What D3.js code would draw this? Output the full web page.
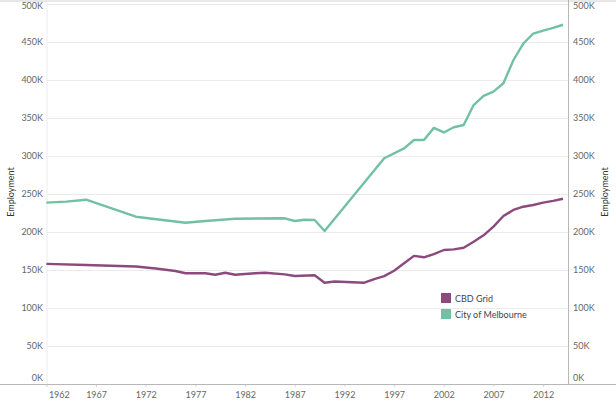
<!DOCTYPE html>
<html>
<head>
<meta charset="utf-8">
<script src="https://cdn.jsdelivr.net/npm/d3@7"></script>
<style>
  body { margin: 0; background: #fff; }
  text { font-family: Lato, "Open Sans", sans-serif; }
</style>
</head>
<body>
<div class="chart"></div>
<script>
// years (null = no point for that series)
var years = [1962, 1964, 1966, 1971, 1973, 1975, 1976, 1978, 1979, 1980, 1981, 1983, 1984, 1986, 1987, 1988, 1989, 1990, 1991, 1994, 1995, 1996, 1997, 1998, 1999, 2000, 2001, 2002, 2003, 2004, 2005, 2006, 2007, 2008, 2009, 2010, 2011, 2012, 2013, 2014];
var cbdGrid = [158.0, null, 156.6, 154.6, 152.0, 148.7, 145.7, 145.7, 143.8, 146.4, 143.8, 145.7, 146.4, 144.3, 142.1, null, 143.0, 133.3, 134.8, 133.3, 138.0, 142.0, 149.0, 158.8, 168.6, 166.7, 171.0, 176.3, 177.2, 179.3, 187.2, 195.6, 207.0, 221.0, 229.0, 233.3, 235.5, 238.6, 241.0, 243.7];
var cityOfMelbourne = [238.6, 240.0, 242.5, 220.1, null, null, 212.2, 214.5, 215.4, null, 217.5, null, null, 218.0, 214.5, 216.2, 215.8, 201.3, null, null, null, 297.0, null, 310.0, 321.0, 321.0, 337.0, 331.0, 337.8, 340.8, 367.0, 379.0, 384.6, 395.7, 426.0, 448.0, 461.0, 465.0, 468.5, 472.7];
var seriesNames = ["CBD Grid", "City of Melbourne"];
var seriesColors = ["#8b4a7e", "#71c1a2"];
var yTicks = [0, 50, 100, 150, 200, 250, 300, 350, 400, 450, 500];
var xTicks = [1962, 1967, 1972, 1977, 1982, 1987, 1992, 1997, 2002, 2007, 2012];

window.onload = drawChart();

function drawChart(){
    var width = 616,
        height = 406;

    var left = 47, right = 568, top = 4, bottom = 384;

    var svg = d3.select("div.chart")
        .append("svg")
        .attr("width", width)
        .attr("height", height);

    var x = d3.scaleLinear().domain([1962, 2014.5]).range([46.4, right]);
    var y = d3.scaleLinear().domain([0, 500]).range([bottom, top]);
    var color = d3.scaleOrdinal().domain(seriesNames).range(seriesColors);

    //gridlines
    svg.append("g")
        .attr("transform", "translate(" + left + ",0)")
        .call(d3.axisLeft(y).tickValues(yTicks.slice(1)).tickSize(-(right - left)).tickFormat(""))
        .call(function(g){
            g.select(".domain").remove();
            g.selectAll("line").attr("stroke", "#ebebeb");
        });

    //frame lines
    svg.append("line").attr("x1", 0).attr("x2", width).attr("y1", 1).attr("y2", 1)
        .attr("stroke", "#d0d0d0");
    svg.append("line").attr("x1", left).attr("x2", left).attr("y1", 1).attr("y2", bottom)
        .attr("stroke", "#ececec");

    //left axis
    var leftAxis = svg.append("g")
        .attr("transform", "translate(" + left + ",0)")
        .call(d3.axisLeft(y).tickValues(yTicks).tickSize(0).tickPadding(4).tickFormat(function(d){ return d + "K"; }));
    styleYAxis(leftAxis, y);

    //right axis
    var rightAxis = svg.append("g")
        .attr("transform", "translate(" + right + ",0)")
        .call(d3.axisRight(y).tickValues(yTicks).tickSize(0).tickPadding(5).tickFormat(function(d){ return d + "K"; }));
    styleYAxis(rightAxis, y);
    svg.append("line").attr("x1", right + 0.5).attr("x2", right + 0.5).attr("y1", 0).attr("y2", bottom)
        .attr("stroke", "#b8b8b8");

    //bottom axis
    var xAxis = svg.append("g")
        .attr("transform", "translate(0," + bottom + ")")
        .call(d3.axisBottom(x).tickValues(xTicks).tickSize(3).tickPadding(5).tickFormat(d3.format("d")));
    xAxis.select(".domain").remove();
    xAxis.selectAll("line").attr("stroke", "#d8d8d8");
    xAxis.selectAll("text")
        .attr("fill", "#666")
        .style("font-size", "9px")
        .attr("text-anchor", function(d){ return d == 1962 ? "start" : "middle"; })
        .attr("dx", function(d){ return d == 1962 ? 2 : 0; });
    svg.append("line").attr("x1", 0).attr("x2", width).attr("y1", bottom + 0.5).attr("y2", bottom + 0.5)
        .attr("stroke", "#b8b8b8");

    //axis titles
    svg.append("text")
        .attr("transform", "translate(14,192) rotate(-90)")
        .attr("text-anchor", "middle")
        .attr("fill", "#333")
        .style("font-size", "9px")
        .text("Employment");
    svg.append("text")
        .attr("transform", "translate(608,192) rotate(-90)")
        .attr("text-anchor", "middle")
        .attr("fill", "#333")
        .style("font-size", "9px")
        .text("Employment");

    //lines
    var series = [cbdGrid, cityOfMelbourne];
    var line = d3.line()
        .x(function(d){ return x(d[0]); })
        .y(function(d){ return y(d[1]); });

    series.forEach(function(vals, i){
        var pts = [];
        for (var k = 0; k < years.length; k++){
            if (vals[k] != null) pts.push([years[k], vals[k]]);
        }
        svg.append("path")
            .datum(pts)
            .attr("fill", "none")
            .attr("stroke", color(seriesNames[i]))
            .attr("stroke-width", 2.4)
            .attr("stroke-linejoin", "round")
            .attr("d", line);
    });

    //legend
    var legend = svg.selectAll(".legend")
        .data(seriesNames)
        .enter()
        .append("g")
        .attr("class", "legend")
        .attr("transform", function(d, i){ return "translate(441," + (293 + i * 16) + ")"; });
    legend.append("rect")
        .attr("width", 10)
        .attr("height", 10)
        .attr("fill", function(d){ return color(d); });
    legend.append("text")
        .attr("x", 14)
        .attr("y", 8.5)
        .attr("fill", "#444")
        .style("font-size", "9px")
        .text(function(d){ return d; });
};

function styleYAxis(g, y){
    g.select(".domain").remove();
    g.selectAll("text")
        .attr("fill", "#666")
        .style("font-size", "9px")
        .attr("y", function(d){
            var p = y(d);
            if (p < 6) return 6 - p;
            if (p > 378) return 378 - p;
            return 0;
        });
};
</script>
</body>
</html>
